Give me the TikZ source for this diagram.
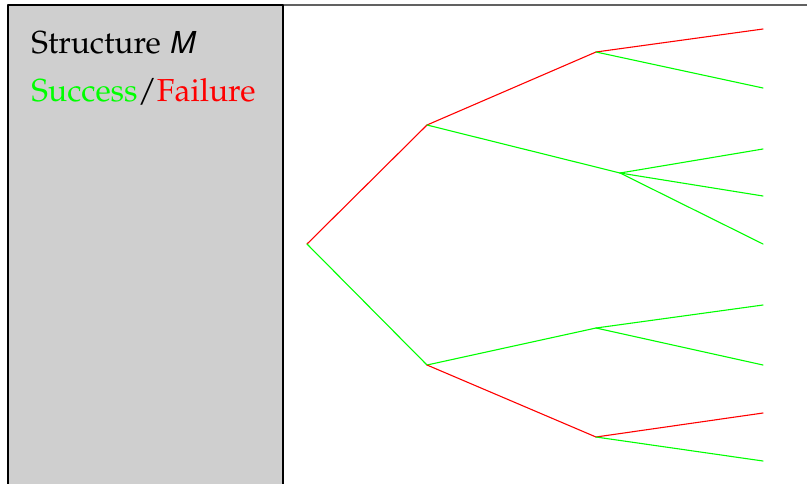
\documentclass[tikz,border=0pt]{standalone}
\usepackage[T1]{fontenc}
\usepackage{mathpazo}
\usepackage[scaled]{helvet}
\begin{document}
\begin{tikzpicture}[x=0.5pt,y=-0.5pt,
  line cap=round,line join=round,
  every node/.style={font=\fontsize{15.9}{19}\selectfont,inner sep=0pt,anchor=base west},
  S/.style={draw={rgb,255:red,0;green,255;blue,0},line width=.55pt},
  F/.style={draw={rgb,255:red,255;green,0;blue,0},line width=.55pt}]
  \useasboundingbox (0,0) rectangle (807,483);

  %% ---- frame: grey side panel and the top rule
  \draw[line width=1.3pt,black!62] (283,5) -- (808,5);
  \draw[line width=1.1pt,fill={rgb,255:red,207;green,207;blue,207}]
    (8,495) -- (8,5) -- (283,5) -- (283,495);

  %% ---- legend
  \node (title) at (31,53) {Structure \textsf{\itshape M}};
  \node (legend) at (31,101) {\textcolor[rgb]{0,1,0}{Success}/\textcolor[rgb]{1,0,0}{Failure}};

  %% ---- tree points
  \coordinate (r) at (307,244);
  \coordinate (a) at (427,125);
  \coordinate (b) at (427,365);
  \coordinate (a1) at (596,52);
  \coordinate (a2) at (620,173);
  \coordinate (b1) at (596,328);
  \coordinate (b2) at (596,437);
  % leaves
  \coordinate (l1) at (763,29);
  \coordinate (l2) at (763,88);
  \coordinate (l3) at (763,149);
  \coordinate (l4) at (763,196);
  \coordinate (l5) at (763,244);
  \coordinate (l6) at (763,305);
  \coordinate (l7) at (763,365);
  \coordinate (l8) at (763,413);
  \coordinate (l9) at (763,461);

  %% ---- branches
  \draw[F] (r) -- (a);
  \draw[S] (r) -- (b);
  \draw[F] (a) -- (a1);
  \draw[S] (a) -- (a2);
  \draw[S] (b) -- (b1);
  \draw[F] (b) -- (b2);
  \draw[F] (a1) -- (l1);
  \draw[S] (a1) -- (l2);
  \draw[S] (a2) -- (l3);
  \draw[S] (a2) -- (l4);
  \draw[S] (a2) -- (l5);
  \draw[S] (b1) -- (l6);
  \draw[S] (b1) -- (l7);
  \draw[F] (b2) -- (l8);
  \draw[S] (b2) -- (l9);
\end{tikzpicture}
\end{document}
